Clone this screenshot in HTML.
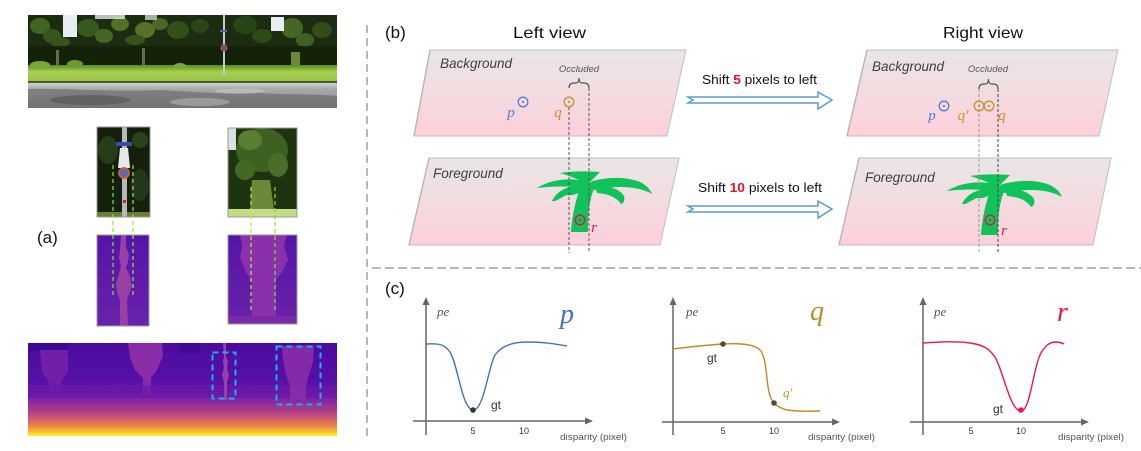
<!DOCTYPE html>
<html><head><meta charset="utf-8">
<style>
html,body{margin:0;padding:0;background:#fff;}
svg{display:block;}
</style></head>
<body>
<svg width="1141" height="451" viewBox="0 0 1141 451" xmlns="http://www.w3.org/2000/svg">
<defs>
<linearGradient id="pg" x1="0" y1="0" x2="0" y2="1">
<stop offset="0" stop-color="#e9e5e5"/><stop offset="0.45" stop-color="#f2dde1"/><stop offset="1" stop-color="#fdd0da"/>
</linearGradient>
<linearGradient id="grass" x1="0" y1="0" x2="0" y2="1">
<stop offset="0" stop-color="#5a8a20"/><stop offset="0.4" stop-color="#a8d050"/><stop offset="1" stop-color="#98c048"/>
</linearGradient>
<linearGradient id="road" x1="0" y1="0" x2="0" y2="1">
<stop offset="0" stop-color="#d0d0d0"/><stop offset="0.25" stop-color="#a8a8a8"/><stop offset="1" stop-color="#8a8a8a"/>
</linearGradient>
<linearGradient id="depth" x1="0" y1="0" x2="0" y2="1">
<stop offset="0" stop-color="#4c0ca0"/><stop offset="0.4" stop-color="#5510a6"/><stop offset="0.53" stop-color="#6818a8"/>
<stop offset="0.63" stop-color="#8a28a2"/><stop offset="0.74" stop-color="#b04088"/><stop offset="0.83" stop-color="#d86262"/>
<stop offset="0.91" stop-color="#f09440"/><stop offset="0.97" stop-color="#f8d424"/><stop offset="1" stop-color="#f8f030"/>
</linearGradient>
<linearGradient id="dc" x1="0" y1="0" x2="0" y2="1">
<stop offset="0" stop-color="#5414a8"/><stop offset="1" stop-color="#6a22aa"/>
</linearGradient>
</defs>

<!-- ===== (a) panel ===== -->
<g>
<rect x="28" y="15" width="309" height="93" fill="#1c2c10"/>
<g opacity="0.85">
<ellipse cx="40" cy="26" rx="10" ry="8" fill="#4a6e26"/>
<ellipse cx="52" cy="36" rx="9" ry="7" fill="#3a5e20"/>
<ellipse cx="88" cy="28" rx="11" ry="9" fill="#3e6220"/>
<ellipse cx="104" cy="36" rx="9" ry="7" fill="#4e7026"/>
<ellipse cx="120" cy="24" rx="9" ry="7" fill="#5a7e2a"/>
<ellipse cx="145" cy="30" rx="10" ry="8" fill="#627e2c"/>
<ellipse cx="160" cy="24" rx="8" ry="6" fill="#52722a"/>
<ellipse cx="178" cy="30" rx="11" ry="9" fill="#35561a"/>
<ellipse cx="200" cy="26" rx="9" ry="7" fill="#2e4a16"/>
<ellipse cx="245" cy="25" rx="12" ry="9" fill="#2a4a16"/>
<ellipse cx="262" cy="36" rx="10" ry="7" fill="#30501a"/>
<ellipse cx="292" cy="28" rx="11" ry="10" fill="#4e7228"/>
<ellipse cx="305" cy="40" rx="9" ry="7" fill="#466a24"/>
<ellipse cx="322" cy="30" rx="10" ry="8" fill="#34521a"/>
<ellipse cx="60" cy="42" rx="10" ry="5" fill="#3a5a1c"/>
<ellipse cx="135" cy="40" rx="10" ry="5" fill="#3a5a1c"/>
</g>
<rect x="28" y="46" width="309" height="20" fill="#122008" opacity="0.8"/>
<rect x="63" y="15" width="14" height="22" fill="#e6eef2"/>
<rect x="95" y="15" width="30" height="4" fill="#e0e8ea" opacity="0.8"/>
<rect x="145" y="15" width="12" height="5" fill="#e0e8ea" opacity="0.7"/>
<rect x="271" y="17" width="13" height="14" fill="#e6eef2"/>
<rect x="56" y="50" width="3" height="18" fill="#6a6a50"/>
<rect x="142" y="48" width="3" height="22" fill="#6a6a50"/>
<rect x="291" y="52" width="9" height="20" fill="#6a8a3a"/>
<rect x="28" y="65" width="309" height="17" fill="url(#grass)"/>
<ellipse cx="40" cy="65" rx="10" ry="4" fill="#7aa838"/>
<ellipse cx="75" cy="64" rx="8" ry="4" fill="#6a9a30"/>
<ellipse cx="180" cy="66" rx="6" ry="3" fill="#7aa838"/>
<rect x="28" y="81" width="309" height="2" fill="#4a5a30"/>
<rect x="28" y="83" width="309" height="25" fill="url(#road)"/>
<path d="M28,89 C70,88 110,92 160,90 C200,92 230,95 260,93 C290,95 320,94 337,96 L337,108 L28,108 Z" fill="#5a5a5a" opacity="0.5"/>
<ellipse cx="90" cy="100" rx="40" ry="5" fill="#4a4a4a" opacity="0.45"/>
<ellipse cx="200" cy="102" rx="30" ry="4" fill="#c0c0c0" opacity="0.5"/>
<ellipse cx="240" cy="91" rx="25" ry="2.5" fill="#c8c8c8" opacity="0.6"/>
<rect x="223" y="15" width="2" height="60" fill="#c8c8c8"/>
<rect x="220" y="30" width="7" height="2" fill="#4a6ac0"/>
<circle cx="224" cy="48" r="3" fill="#4a5ab0" stroke="#d04030" stroke-width="1.2"/>
</g>

<g>
<rect x="97" y="127" width="53" height="90" fill="#14200c"/>
<ellipse cx="108" cy="150" rx="10" ry="14" fill="#263e16"/>
<ellipse cx="140" cy="185" rx="9" ry="16" fill="#22381a"/>
<ellipse cx="140" cy="140" rx="8" ry="8" fill="#2a4418"/>
<rect x="97" y="212" width="53" height="5" fill="#6a8030"/>
<rect x="122" y="127" width="5" height="90" fill="#b8b8b8"/>
<rect x="116" y="142" width="16" height="4" fill="#3a4ab0"/>
<path d="M120,148 L128,148 L130,168 L118,168 Z" fill="#e8e8e8"/>
<circle cx="124" cy="173" r="5" fill="#5a6ab8" stroke="#d06030" stroke-width="1.8"/>
<rect x="123" y="200" width="3" height="3" fill="#b03020"/>
<rect x="97" y="127" width="53" height="90" fill="none" stroke="#9a9a9a" stroke-width="1"/>
</g>

<g>
<rect x="228" y="128" width="69" height="89" fill="#1e3410"/>
<ellipse cx="262" cy="150" rx="26" ry="22" fill="#3e6020"/>
<ellipse cx="250" cy="140" rx="12" ry="10" fill="#5a7e30"/>
<ellipse cx="278" cy="165" rx="10" ry="12" fill="#4a6e28"/>
<ellipse cx="245" cy="170" rx="10" ry="10" fill="#446824"/>
<rect x="228" y="128" width="8" height="22" fill="#d8e0e0"/>
<path d="M252,180 L270,180 L274,210 L250,210 Z" fill="#6a8a3a"/>
<rect x="228" y="209" width="69" height="8" fill="#c4dc88"/>
<rect x="228" y="128" width="69" height="89" fill="none" stroke="#9a9a9a" stroke-width="1"/>
</g>

<g>
<rect x="97" y="235" width="52" height="91" fill="url(#dc)"/>
<path d="M121,235 L126,235 L126,248 L129,254 L128,262 L126,268 L130,276 L132,286 L129,294 L127,300 L128,326 L120,326 L120,300 L117,292 L116,284 L119,274 L121,266 L119,258 L120,250 Z" fill="#9a40a4"/>
<rect x="97" y="235" width="52" height="91" fill="none" stroke="#9a9a9a" stroke-width="1"/>
</g>
<g>
<rect x="228" y="235" width="69" height="89" fill="url(#dc)"/>
<path d="M240,235 L287,235 L284,245 L288,260 L282,272 L276,280 L276,324 L252,324 L252,282 L246,272 L240,258 L242,246 Z" fill="#8a30aa"/>
<rect x="228" y="316" width="69" height="8" fill="#7a2aa6"/>
<rect x="228" y="235" width="69" height="89" fill="none" stroke="#9a9a9a" stroke-width="1"/>
</g>

<g stroke-dasharray="4,3" stroke-width="1.2" fill="none">
<line x1="113" y1="165" x2="113" y2="295" stroke="#7cf020"/>
<line x1="133" y1="165" x2="133" y2="295" stroke="#9ee050"/>
<line x1="251" y1="187" x2="251" y2="312" stroke="#b0f040"/>
<line x1="275" y1="187" x2="275" y2="312" stroke="#7ee030"/>
</g>

<text x="37" y="243" font-family="Liberation Sans, sans-serif" font-size="17" fill="#111">(a)</text>

<g>
<rect x="28" y="343" width="309" height="93" fill="url(#depth)"/>
<rect x="28" y="343" width="40" height="8" fill="#3a0892" opacity="0.8"/>
<rect x="180" y="343" width="20" height="10" fill="#3a0892" opacity="0.7"/>
<path d="M40,350 L68,350 L68,372 L62,380 L60,392 L50,392 L48,380 L42,372 Z" fill="#7420a8" opacity="0.9"/>
<path d="M128,343 L162,343 L163,356 L157,370 L151,378 L151,395 L143,395 L143,378 L135,370 L130,358 Z" fill="#8a2ca8"/>
<path d="M28,386 C60,382 90,388 120,384 C160,388 200,382 240,386 C280,384 310,388 337,385 L337,398 L28,398 Z" fill="#6a18a8" opacity="0.7"/>
<path d="M223,343 L226,343 L226,356 L228,362 L227,368 L229,375 L227,382 L227,400 L224,400 L224,382 L222,375 L224,368 L223,362 L224,356 Z" fill="#9a40a4"/>
<path d="M282,346 L314,346 L313,362 L308,378 L306,386 L306,400 L290,400 L290,386 L286,374 L283,360 Z" fill="#8a2ea8" opacity="0.9"/>
<rect x="212.5" y="352.5" width="23" height="46" fill="none" stroke="#1ab0e8" stroke-width="2" stroke-dasharray="6,4"/>
<rect x="276.5" y="346.5" width="44" height="58" fill="none" stroke="#1ab0e8" stroke-width="2" stroke-dasharray="6,4"/>
</g>

<line x1="367" y1="25" x2="367" y2="440" stroke="#b8b8b8" stroke-width="2" stroke-dasharray="8,5"/>
<line x1="372" y1="268" x2="1141" y2="268" stroke="#b8b8b8" stroke-width="2" stroke-dasharray="9,4"/>

<!-- ===== (b) panel ===== -->
<text x="385" y="38" font-family="Liberation Sans, sans-serif" font-size="17" fill="#111">(b)</text>
<text x="513" y="38" font-family="Liberation Sans, sans-serif" font-size="16" fill="#111" textLength="73" lengthAdjust="spacingAndGlyphs">Left view</text>
<text x="943" y="38" font-family="Liberation Sans, sans-serif" font-size="16" fill="#111" textLength="80" lengthAdjust="spacingAndGlyphs">Right view</text>

<g stroke="#c4bcbc" stroke-width="1" fill="url(#pg)">
<polygon points="430,50 686,50 667,136 414,136"/>
<polygon points="429,158 679,158 660,245 409,245"/>
<polygon points="867,50 1118,50 1099,136 847,136"/>
<polygon points="859,158 1111,158 1093,245 839,245"/>
</g>
<g fill="none" stroke="#b0a8a8" stroke-width="1.5" opacity="0.6">
<line x1="430" y1="50" x2="414" y2="136"/>
<line x1="429" y1="158" x2="409" y2="245"/>
<line x1="867" y1="50" x2="847" y2="136"/>
<line x1="859" y1="158" x2="839" y2="245"/>
</g>

<g font-family="Liberation Sans, sans-serif" font-style="italic" fill="#404040">
<text x="440" y="68" font-size="13.5">Background</text>
<text x="433" y="178" font-size="13.5">Foreground</text>
<text x="872" y="71" font-size="13.5">Background</text>
<text x="865" y="182" font-size="13.5">Foreground</text>
<text x="579" y="72" font-size="9.5" text-anchor="middle" fill="#555">Occluded</text>
<text x="988" y="72" font-size="9.5" text-anchor="middle" fill="#555">Occluded</text>
</g>

<g fill="#10c25a">
<path d="M571,232 L588,232 C588,214 589,196 597,183 L582,183 C576,198 572,215 571,232 Z"/>
<path d="M560,173 C572,171 588,171 600,172 C596,176 592,180 588,184 C580,180 570,176 560,173 Z"/>
<path d="M537,188 C548,181 565,177 587,181 L587,188 C570,186 552,186 537,188 Z"/>
<path d="M583,185 C570,185 557,190 552,201 C557,202 561,197 567,195 C572,196 577,194 582,191 Z"/>
<path d="M590,182 C605,177 625,176 640,182 C646,185 650,189 652,194 C645,190 635,187 620,187 C610,187 602,189 594,190 Z"/>
<path d="M595,186 C608,185 620,189 624,196 C625,200 624,203 621,204 C617,198 610,194 597,193 Z"/>
</g>
<g transform="translate(410,3)" fill="#10c25a">
<path d="M571,232 L588,232 C588,214 589,196 597,183 L582,183 C576,198 572,215 571,232 Z"/>
<path d="M560,173 C572,171 588,171 600,172 C596,176 592,180 588,184 C580,180 570,176 560,173 Z"/>
<path d="M537,188 C548,181 565,177 587,181 L587,188 C570,186 552,186 537,188 Z"/>
<path d="M583,185 C570,185 557,190 552,201 C557,202 561,197 567,195 C572,196 577,194 582,191 Z"/>
<path d="M590,182 C605,177 625,176 640,182 C646,185 650,189 652,194 C645,190 635,187 620,187 C610,187 602,189 594,190 Z"/>
<path d="M595,186 C608,185 620,189 624,196 C625,200 624,203 621,204 C617,198 610,194 597,193 Z"/>
</g>

<path d="M569,88 Q569,83 574,83 L576,83 Q579,83 579,78 Q579,83 582,83 L584,83 Q589,83 589,88" fill="none" stroke="#555" stroke-width="1.2"/>
<path d="M979,89 Q979,84 983.5,84 L985.5,84 Q988.5,84 988.5,79 Q988.5,84 991.5,84 L993.5,84 Q998,84 998,89" fill="none" stroke="#555" stroke-width="1.2"/>

<g fill="none" stroke-width="1" stroke-dasharray="3,2">
<line x1="569" y1="107" x2="569" y2="253" stroke="#555"/>
<line x1="589" y1="88" x2="589" y2="253" stroke="#555"/>
<line x1="979" y1="89" x2="979" y2="253" stroke="#999"/>
<line x1="998" y1="89" x2="998" y2="253" stroke="#444"/>
</g>

<g fill="none" stroke-width="1.3">
<circle cx="523" cy="102" r="4.8" stroke="#4a80d8"/>
<circle cx="569" cy="102" r="4.8" stroke="#c8902a"/>
<circle cx="580" cy="220" r="4.8" stroke="#e8104a"/>
<circle cx="944" cy="106" r="4.8" stroke="#4a80d8"/>
<circle cx="979" cy="106" r="4.8" stroke="#c8902a"/>
<circle cx="989" cy="106" r="4.8" stroke="#c8902a"/>
<circle cx="990" cy="220" r="4.8" stroke="#e8104a"/>
</g>
<g>
<circle cx="523" cy="102" r="1.1" fill="#4a80d8"/>
<circle cx="569" cy="102" r="1.1" fill="#c8902a"/>
<circle cx="580" cy="220" r="1.1" fill="#e8104a"/>
<circle cx="944" cy="106" r="1.1" fill="#4a80d8"/>
<circle cx="979" cy="106" r="1.1" fill="#c8902a"/>
<circle cx="989" cy="106" r="1.1" fill="#c8902a"/>
<circle cx="990" cy="220" r="1.1" fill="#e8104a"/>
</g>
<g font-family="Liberation Serif, serif" font-style="italic" font-size="15" text-anchor="middle">
<text x="511" y="117" fill="#4a80d8">p</text>
<text x="558" y="117" fill="#c8902a">q</text>
<text x="932" y="120" fill="#4a80d8">p</text>
<text x="963" y="120" fill="#c8902a">q′</text>
<text x="1002" y="120" fill="#c8902a">q</text>
<text x="594" y="232" fill="#e8104a">r</text>
<text x="1004" y="235" fill="#e8104a">r</text>
</g>

<g font-family="Liberation Sans, sans-serif" font-size="12.5" fill="#111">
<text x="702" y="84" textLength="115" lengthAdjust="spacingAndGlyphs">Shift <tspan font-weight="bold" fill="#e8102a">5</tspan> pixels to left</text>
<text x="698" y="192" textLength="124" lengthAdjust="spacingAndGlyphs">Shift <tspan font-weight="bold" fill="#e8102a">10</tspan> pixels to left</text>
</g>
<g fill="#ffffff" stroke="#5b9bd5" stroke-width="1.5" stroke-linejoin="miter">
<polygon points="688,97 818,97 818,92 832,100 818,109 818,103 688,103 693,100"/>
<polygon points="688,206 818,206 818,201 832,209 818,218 818,212 688,212 693,209"/>
</g>

<!-- ===== (c) panel ===== -->
<text x="385" y="294" font-family="Liberation Sans, sans-serif" font-size="17" fill="#111">(c)</text>

<g stroke="#666" stroke-width="1.5" fill="none">
<line x1="426" y1="302" x2="426" y2="435"/>
<line x1="413" y1="421" x2="588" y2="421"/>
<line x1="673" y1="302" x2="673" y2="435"/>
<line x1="662" y1="422" x2="835" y2="422"/>
<line x1="923" y1="302" x2="923" y2="435"/>
<line x1="910" y1="422" x2="1084" y2="422"/>
</g>
<g fill="#666">
<polygon points="426,297 422.5,305 429.5,305"/>
<polygon points="593,421 585,417.5 585,424.5"/>
<polygon points="673,297 669.5,305 676.5,305"/>
<polygon points="840,422 832,418.5 832,425.5"/>
<polygon points="923,297 919.5,305 926.5,305"/>
<polygon points="1089,422 1081,418.5 1081,425.5"/>
</g>

<path d="M426,344 C440,343 445,345 450,352 C458,365 462,409 473,410 C484,410 488,368 495,355 C502,345 515,342 527,342 C545,342 555,344 567,346" fill="none" stroke="#4472c4" stroke-width="1.4"/>
<path d="M673,349 C690,347 705,345 723,344 C740,343 752,344 759,349 C767,356 766,380 769,392 C771,402 776,407 787,410 C800,412 810,411 820,411" fill="none" stroke="#c08a22" stroke-width="1.4"/>
<path d="M923,343 C940,342 955,341 970,343 C985,345 990,350 995,357 C1003,370 1010,411 1021,411 C1030,411 1033,370 1040,355 C1045,345 1050,342 1056,342 C1060,342 1062,343 1064,344" fill="none" stroke="#e8174a" stroke-width="1.4"/>
<circle cx="473" cy="410" r="2.8" fill="#333"/>
<circle cx="723" cy="344" r="2.8" fill="#5a4a30"/>
<circle cx="774" cy="403" r="2.8" fill="#5a4a30"/>
<circle cx="1021" cy="410" r="2.8" fill="#e8174a"/>

<g font-family="Liberation Serif, serif" font-style="italic" font-size="13" fill="#555">
<text x="437" y="316">pe</text>
<text x="686" y="316">pe</text>
<text x="934" y="316">pe</text>
<text x="783" y="397" fill="#c08a22" font-size="13">q′</text>
</g>
<g font-family="Liberation Serif, serif" font-style="italic" font-size="28">
<text x="560" y="323" fill="#4472c4">p</text>
<text x="810" y="320" fill="#c08a22">q</text>
<text x="1057" y="321" fill="#e8174a">r</text>
</g>
<g font-family="Liberation Sans, sans-serif" font-size="12" fill="#333">
<text x="491" y="409">gt</text>
<text x="707" y="362">gt</text>
<text x="993" y="413">gt</text>
</g>
<g font-family="Liberation Sans, sans-serif" font-size="9" fill="#333" text-anchor="middle">
<text x="473" y="434">5</text>
<text x="524" y="434">10</text>
<text x="723" y="434">5</text>
<text x="774" y="434">10</text>
<text x="971" y="434">5</text>
<text x="1021" y="434">10</text>
</g>
<g font-family="Liberation Sans, sans-serif" font-size="9" fill="#555">
<text x="560" y="440" textLength="67" lengthAdjust="spacingAndGlyphs">disparity (pixel)</text>
<text x="808" y="440" textLength="67" lengthAdjust="spacingAndGlyphs">disparity (pixel)</text>
<text x="1058" y="440" textLength="66" lengthAdjust="spacingAndGlyphs">disparity (pixel)</text>
</g>
</svg>
</body></html>
